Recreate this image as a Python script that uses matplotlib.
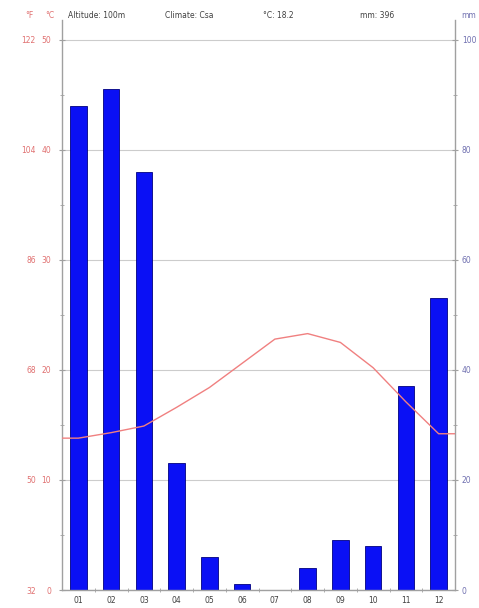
import matplotlib.pyplot as plt

# climate diagram data
months = ["01", "02", "03", "04", "05", "06", "07", "08", "09", "10", "11", "12"]
precip_mm = [88, 91, 76, 23, 6, 1, 0, 4, 9, 8, 37, 53]
temp_c = [13.8, 14.3, 14.9, 16.6, 18.4, 20.6, 22.8, 23.3, 22.5, 20.2, 17.1, 14.2]
mm_ticks = [0, 20, 40, 60, 80, 100]
c_ticks = [0, 10, 20, 30, 40, 50]
f_ticks = [32, 50, 68, 86, 104, 122]
header = ["Altitude: 100m", "Climate: Csa", "°C: 18.2", "mm: 396"]

red = "#e07070"
blue_lbl = "#7070b0"
axis_col = "#a0a0a0"

fig = plt.figure(figsize=(4.79, 6.08), dpi=100)
ax = fig.add_axes([62 / 479, 1 - 590 / 608, 393 / 479, 570 / 608])
tax = ax.twinx()

x = list(range(1, 13))
ax.bar(x, precip_mm, width=0.5, color="#0a10f5", edgecolor="#000080", linewidth=0.6, zorder=2)
ax.set_xlim(0.5, 12.5)
ax.set_ylim(0, 103.6)
ax.set_xticks(x)
ax.set_xticklabels(months, fontsize=5.5, color="#404040")
ax.set_xticks([i + 0.5 for i in range(1, 12)], minor=True)
ax.tick_params(axis="x", which="major", length=0, pad=4)
ax.tick_params(axis="x", which="minor", length=3, direction="inout", color=axis_col)

# precipitation labelled on the right
ax.set_yticks(mm_ticks)
ax.set_yticks(range(10, 100, 20), minor=True)
ax.set_yticklabels([str(v) for v in mm_ticks], fontsize=5.5, color=blue_lbl)
ax.tick_params(axis="y", which="both", left=False, labelleft=False, right=True, labelright=True,
               direction="inout", length=4, color=axis_col, pad=3)
ax.tick_params(axis="y", which="minor", length=3)
ax.grid(axis="y", which="major", color="#cccccc", linewidth=0.8, zorder=0)

for s in ["left", "right", "bottom"]:
    ax.spines[s].set_color(axis_col)
    ax.spines[s].set_linewidth(1.0)
ax.spines["top"].set_visible(False)

# temperature on its own axis, labelled on the left
tax.set_ylim(0, 103.6 / 2)
tax.set_yticks(c_ticks)
tax.set_yticks(range(5, 50, 10), minor=True)
tax.set_yticklabels([str(v) for v in c_ticks], fontsize=5.5, color=red)
tax.tick_params(axis="y", which="both", left=True, labelleft=True, right=False, labelright=False,
                direction="inout", length=4, color=axis_col, pad=6)
tax.tick_params(axis="y", which="minor", length=3)
for s in tax.spines.values():
    s.set_visible(False)

tx = [0.5] + x + [12.5]
ty = [temp_c[0]] + temp_c + [temp_c[-1]]
tax.plot(tx, ty, color="#f08080", linewidth=1.0, zorder=3)

sec = tax.secondary_yaxis(-0.06, functions=(lambda c: c * 9 / 5 + 32, lambda f: (f - 32) * 5 / 9))
sec.set_yticks(f_ticks)
sec.set_yticklabels([str(v) for v in f_ticks], fontsize=5.5, color=red)
sec.tick_params(length=0, pad=2)
sec.spines["left"].set_visible(False)

# header line
ty_h = 1 - 15 / 608
fig.text(25 / 479, ty_h, "°F", fontsize=5.5, color=red, va="center")
fig.text(45 / 479, ty_h, "°C", fontsize=5.5, color=red, va="center")
for xp, txt in zip([68, 165, 263, 360], header):
    fig.text(xp / 479, ty_h, txt, fontsize=5.5, color="#404040", va="center")
fig.text(461 / 479, ty_h, "mm", fontsize=5.5, color=blue_lbl, va="center")

fig.savefig("out.png", dpi=100)
